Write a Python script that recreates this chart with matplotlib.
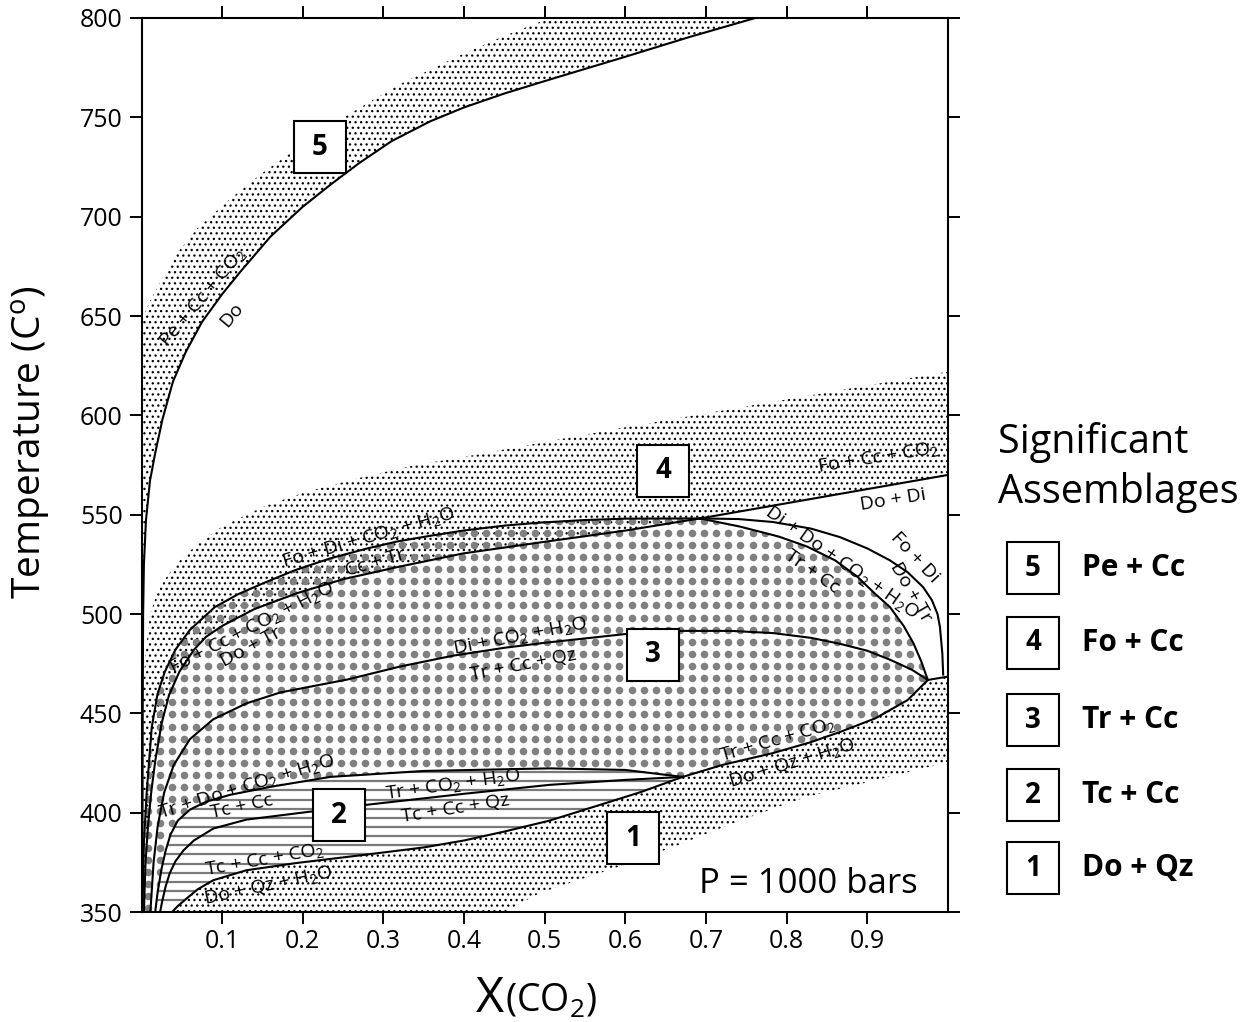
import numpy as np
import matplotlib
matplotlib.use("Agg")
import matplotlib.pyplot as plt
from matplotlib.patches import Polygon
from matplotlib.lines import Line2D

plt.rcParams['font.family'] = ['Open Sans', 'DejaVu Sans']
plt.rcParams['mathtext.fontset'] = 'custom'
plt.rcParams['mathtext.rm'] = 'Open Sans'
plt.rcParams['mathtext.default'] = 'regular'
plt.rcParams['hatch.linewidth'] = 0.9

# reaction curves, X(CO2) vs T (C)
# Pe + Cc + CO2 / Do
pe_x = [0.001, 0.0015, 0.002, 0.003, 0.0055, 0.0105, 0.017, 0.026, 0.039, 0.055, 0.075, 0.1,
        0.122, 0.16, 0.2, 0.234, 0.27, 0.31, 0.358, 0.4, 0.45, 0.506, 0.6, 0.68, 0.761]
pe_t = [350, 450, 500, 525, 547, 567, 581, 598, 617, 632, 647, 661,
        672, 690, 705, 716, 727, 738, 748, 755, 762, 769, 780.5, 790.5, 800]
# Fo + Di + CO2 + H2O / Cc + Tr
fodi_x = [0.001, 0.003, 0.0064, 0.0127, 0.02, 0.029, 0.042, 0.06, 0.091, 0.12, 0.151, 0.19,
          0.234, 0.28, 0.317, 0.36, 0.399, 0.45, 0.494, 0.55, 0.6, 0.6925]
fodi_t = [350, 385, 410, 443, 460, 471, 482, 492, 503.5, 510, 515.5, 522,
          528, 533, 536.5, 539.5, 542, 544.5, 546, 547.3, 548, 548.1]
# Fo + Cc + CO2 + H2O / Do + Tr
focc_x = [0.003, 0.005, 0.008, 0.012, 0.017, 0.025, 0.034, 0.047, 0.065, 0.08, 0.1, 0.14,
          0.193, 0.25, 0.317, 0.399, 0.494, 0.6, 0.6925]
focc_t = [350, 375, 393, 410, 426, 445, 459, 471, 482, 488.5, 494, 502.5,
          510.5, 517.5, 523.6, 530.5, 536, 542, 548.1]
# Di + CO2 + H2O / Tr + Cc + Qz
di_x = [0.011, 0.015, 0.02, 0.028, 0.04, 0.06, 0.089, 0.13, 0.172, 0.255, 0.32, 0.386, 0.45,
        0.5, 0.602, 0.668, 0.73, 0.783, 0.83, 0.866, 0.9, 0.928, 0.955, 0.975]
di_t = [350, 375, 393, 410, 424, 437, 447, 455, 460.5, 467, 473.5, 479, 483,
        485.5, 490, 491.5, 491.5, 490.4, 488, 485, 481.5, 477, 472, 466.8]
# Tr + Do + CO2 + H2O / Tc + Cc
trdo_x = [0.017, 0.02, 0.025, 0.03, 0.036, 0.045, 0.06, 0.08, 0.11, 0.16, 0.234, 0.35, 0.506,
          0.6, 0.671]
trdo_t = [350, 360, 372, 381, 389, 396, 401.5, 405.5, 409, 413, 418, 421, 422.3, 421.5, 418]
# Tr + CO2 + H2O / Tc + Cc + Qz
trco_x = [0.023, 0.026, 0.03, 0.035, 0.042, 0.052, 0.065, 0.089, 0.13, 0.209, 0.28, 0.4,
          0.506, 0.6, 0.671]
trco_t = [350, 356, 363, 369.5, 375.5, 381, 386, 392, 396.5, 400.5, 404, 409.5, 414, 416.5, 418]
# Tc + Cc + CO2 / Do + Qz + H2O
tc_x = [0.038, 0.045, 0.058, 0.07, 0.089, 0.13, 0.193, 0.275, 0.35, 0.4, 0.45, 0.506, 0.577, 0.62, 0.671]
tc_t = [350, 353, 357.5, 361.5, 366, 371, 374.7, 378.7, 382.5, 386, 390.5, 396, 405, 410.5, 418]
# Tr + Cc + CO2 / Do + Qz + H2O
trcc_x = [0.671, 0.72, 0.783, 0.83, 0.866, 0.91, 0.95, 0.975]
trcc_t = [418, 424, 430, 435.5, 440.6, 447.5, 456.7, 466.8]
# Di + Do + CO2 + H2O / Tr + Cc
dido_x = [0.6925, 0.742, 0.79, 0.825, 0.86, 0.887, 0.91, 0.928, 0.945, 0.957, 0.967, 0.975]
dido_t = [548.1, 544, 539, 534, 527, 519, 510, 503.5, 494, 485.4, 476, 466.8]
# Fo + Di / Do + Tr
fodo_x = [0.6925, 0.74, 0.783, 0.83, 0.866, 0.9, 0.928, 0.95, 0.969, 0.98, 0.987, 0.99, 0.993, 0.994]
fodo_t = [548.1, 547.8, 546.3, 543, 538.7, 533, 527, 521, 513.6, 507, 500, 493.5, 480, 469.5]
# Fo + Cc + CO2 / Do + Di
focc2_x = [0.6925, 1.0]
focc2_t = [548.1, 570]
# short segment to the right axis
seg_x = [0.975, 1.0]
seg_t = [466.8, 468.5]

# edges of the stippled stability bands
band5_x = [0.0, 0.01, 0.027, 0.045, 0.069, 0.11, 0.15, 0.188, 0.255, 0.317, 0.399, 0.45, 0.506]
band5_t = [648, 657, 670, 682, 694, 709, 722, 733, 751, 766, 782, 791, 800]
band4_x = [0.0, 0.005, 0.0105, 0.02, 0.03, 0.045, 0.069, 0.1, 0.151, 0.2, 0.275, 0.34, 0.399,
           0.506, 0.6, 0.7, 0.8, 0.9, 1.0]
band4_t = [450, 480, 500, 511, 518, 526, 535, 544, 554, 561, 569, 575, 579,
           587, 594, 601, 608, 615, 622]
band1_x = [0.45, 0.494, 0.59, 0.659, 0.742, 0.825, 0.907, 1.0]
band1_t = [350, 359.6, 372.6, 382.7, 396, 408, 416, 425.5]

box_nums = ['5', '4', '3', '2', '1']
box_x = [0.221, 0.6465, 0.634, 0.245, 0.61]
box_t = [735, 572.2, 479.4, 398.8, 387.2]
legend_names = ['Pe + Cc', 'Fo + Cc', 'Tr + Cc', 'Tc + Cc', 'Do + Qz']

# curve labels: text, x, T, rotation
labels = [
    ("Pe + Cc + CO$_2$", 0.0763, 659.6, 50),
    ("Do", 0.112, 650.5, 50),
    ("Fo + Di + CO$_2$ + H$_2$O", 0.281, 538.3, 16),
    ("Cc + Tr", 0.29, 525.7, 16),
    ("Fo + Cc + CO$_2$ + H$_2$O", 0.137, 493, 27),
    ("Do + Tr", 0.136, 483.4, 28),
    ("Di + CO$_2$ + H$_2$O", 0.469, 488.9, 11),
    ("Tr + Cc + Qz", 0.473, 474.3, 11),
    ("Fo + Cc + CO$_2$", 0.913, 579, 9),
    ("Do + Di", 0.932, 557.4, 9),
    ("Di + Do + CO$_2$ + H$_2$O", 0.868, 526, -35),
    ("Tr + Cc", 0.832, 521.5, -35),
    ("Fo + Di", 0.959, 528.7, -47),
    ("Do + Tr", 0.954, 511, -60),
    ("Tr + Do + CO$_2$ + H$_2$O", 0.13, 413, 17),
    ("Tc + Cc", 0.124, 403.2, 12),
    ("Tr + CO$_2$ + H$_2$O", 0.386, 413.9, 8),
    ("Tc + Cc + Qz", 0.389, 402.3, 9),
    ("Tc + Cc + CO$_2$", 0.153, 376.2, 10),
    ("Do + Qz + H$_2$O", 0.157, 363.1, 12),
    ("Tr + Cc + CO$_2$", 0.789, 436.6, 16),
    ("Do + Qz + H$_2$O", 0.806, 425, 17),
]


def pts(x, t):
    return np.column_stack([x, t])


def rev(x, t):
    return np.column_stack([x[::-1], t[::-1]])


W, H = 1246, 1022
fig = plt.figure(figsize=(W / 100, H / 100), dpi=100)
ax = fig.add_axes([141.5 / W, 110 / H, 806.5 / W, 894 / H])
ax.set_xlim(0, 1)
ax.set_ylim(350, 800)

# region polygons
reg3 = np.vstack([pts(fodi_x, fodi_t), pts(dido_x, dido_t)[1:],
                  rev(trcc_x, trcc_t)[1:], rev(trdo_x, trdo_t)[1:]])
reg2 = np.vstack([pts(trdo_x, trdo_t), rev(tc_x, tc_t)[1:]])
reg1 = np.vstack([pts(tc_x, tc_t), pts(trcc_x, trcc_t)[1:], pts(seg_x, seg_t)[1:],
                  rev(band1_x, band1_t)])
reg4 = np.vstack([[[0.0, 350]], pts(band4_x, band4_t), rev(focc2_x, focc2_t),
                  rev(focc_x, focc_t)[1:]])
reg5 = np.vstack([pts(band5_x, band5_t), rev(pe_x, pe_t), [[0.0, 350]]])

# fine stipple
for poly in (reg5, reg4, reg1):
    ax.add_patch(Polygon(poly, closed=True, facecolor='none', edgecolor='black',
                         hatch='...', linewidth=0, zorder=1))

# coarse grey dots for Tr + Cc
step = 12.1
gx = np.arange(6, 806.5, step) / 806.5
gy = np.arange(4, 894, step) / 894
GX, GY = np.meshgrid(gx, gy)
dots = ax.scatter(GX.ravel(), GY.ravel(), s=30, color='#808080', linewidths=0,
                  transform=ax.transAxes, zorder=1.5)
dots.set_clip_path(Polygon(reg3, closed=True, transform=ax.transData))

# horizontal rules for Tc + Cc
hl = ax.hlines(np.arange(356, 425, 4.6), 0, 0.7, colors='#7a7a7a', linewidth=1.6, zorder=1.5)
hl.set_clip_path(Polygon(reg2, closed=True, transform=ax.transData))

curves = [(pe_x, pe_t), (fodi_x, fodi_t), (focc_x, focc_t), (di_x, di_t),
          (trdo_x, trdo_t), (trco_x, trco_t), (tc_x, tc_t), (trcc_x, trcc_t),
          (dido_x, dido_t), (fodo_x, fodo_t), (focc2_x, focc2_t), (seg_x, seg_t)]
for cx, ct in curves:
    ax.plot(cx, ct, color='black', linewidth=1.5, zorder=3, solid_joinstyle='round')

for txt, lx, lt, rot in labels:
    ax.text(lx, lt, txt, rotation=rot, ha='center', va='center', fontsize=14,
            rotation_mode='anchor', zorder=4)

for num, bx, bt in zip(box_nums, box_x, box_t):
    ax.plot(bx, bt, marker='s', markersize=38, markerfacecolor='white',
            markeredgecolor='black', markeredgewidth=1.5, zorder=5)
    ax.text(bx, bt, num, ha='center', va='center', fontsize=20, fontweight='bold', zorder=6)

ax.text(0.9628, 0.0213, 'P = 1000 bars', transform=ax.transAxes, ha='right',
        va='baseline', fontsize=25)

ax.set_xticks([0.1, 0.2, 0.3, 0.4, 0.5, 0.6, 0.7, 0.8, 0.9])
ax.set_xticklabels(['0.1', '0.2', '0.3', '0.4', '0.5', '0.6', '0.7', '0.8', '0.9'])
ax.set_yticks(np.arange(350, 801, 50))
ax.tick_params(direction='out', length=8.5, width=1.4, labelsize=18, top=True, right=True)
ax.tick_params(axis='y', pad=5)
ax.tick_params(axis='x', pad=4)
for sp in ax.spines.values():
    sp.set_linewidth(1.5)

fig.text(32 / W, 1 - 442 / H, 'Temperature (C$^{o}$)', rotation=90, ha='center',
         va='center', fontsize=28)
fig.text(504 / W, 1 - 1012 / H, 'X', ha='right', va='baseline', fontsize=35)
fig.text(505 / W, 1 - 1012 / H, '(CO$_2$)', ha='left', va='baseline', fontsize=27)

fig.text(998 / W, 1 - 453 / H, 'Significant', ha='left', va='baseline', fontsize=28.5)
fig.text(998 / W, 1 - 503 / H, 'Assemblages', ha='left', va='baseline', fontsize=28.5)
leg_y = [568, 643, 720, 795, 868]
for num, name, yy in zip(box_nums, legend_names, leg_y):
    fy = 1 - yy / H
    fig.add_artist(Line2D([1033 / W], [fy], marker='s', markersize=38, linestyle='none',
                          markerfacecolor='white', markeredgecolor='black',
                          markeredgewidth=1.5, transform=fig.transFigure))
    fig.text(1033 / W, fy, num, ha='center', va='center', fontsize=20, fontweight='bold')
    fig.text(1082 / W, fy, name, ha='left', va='center', fontsize=21.5, fontweight='bold')

fig.savefig('out.png', dpi=100)
